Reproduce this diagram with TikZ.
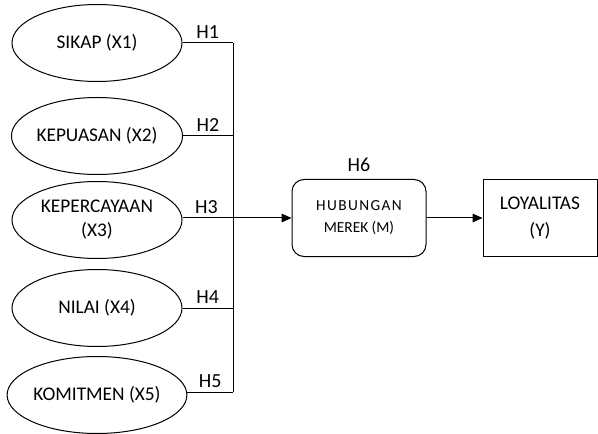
\documentclass[tikz,border=0pt]{standalone}
\usepackage{fontspec}
\setmainfont{Carlito}
\usetikzlibrary{arrows.meta,shapes.geometric}

\begin{document}
\begin{tikzpicture}[x=0.75pt,y=-0.75pt,line width=0.75pt,
  var/.style={draw,ellipse,minimum width=127.5pt,minimum height=57.75pt,
    inner sep=0pt,align=center,font=\fontsize{14.5}{18}\selectfont},
  hyp/.style={above,inner sep=3pt,font=\fontsize{15}{16}\selectfont},
  arr/.style={-{Triangle[length=7.5pt,width=6.5pt]}}]
\useasboundingbox (0,0) rectangle (598,434);

% exogenous variables
\node[var] (x1) at (97,43) {SIKAP (X1)};
\node[var] (x2) at (97,136) {KEPUASAN (X2)};
\node[var] (x3) at (97,220) {KEPERCAYAAN\\(X3)};
\node[var] (x4) at (97,308) {NILAI (X4)};
\node[var] (x5) at (97,395) {KOMITMEN (X5)};

% mediator and outcome
\node[draw,rounded corners=9pt,minimum width=100.5pt,minimum height=57.75pt,
    align=center,font=\fontsize{11.5}{16.5}\selectfont] (hub) at (359,218)
    {\addfontfeatures{LetterSpace=9}HUBUNGAN\\MEREK (M)};
\node[draw,minimum width=85.5pt,minimum height=57.75pt,align=center,
    font=\fontsize{14.5}{20}\selectfont] (loy) at (540,218) {LOYALITAS\\(Y)};
\node[hyp,inner sep=5pt] (h6) at (hub.north) {H6};

% collecting bar
\coordinate (bartop) at (233,43);
\coordinate (barbot) at (233,392);
\draw (bartop) -- (barbot);
\draw (x1.east) -- (bartop) node[hyp,midway] (h1) {H1};
\draw (x2.east) -- (x2.east -| bartop) node[hyp,midway] (h2) {H2};
\draw (x4.east) -- (x4.east -| bartop) node[hyp,midway] (h4) {H4};
\draw (x5.east |- barbot) -- (barbot) node[hyp,midway] (h5) {H5};
\draw[arr] (x3.east |- hub) -- (hub.west) node[hyp,pos=0.22] (h3) {H3};
\draw[arr] (hub) -- (loy);

\end{tikzpicture}
\end{document}
